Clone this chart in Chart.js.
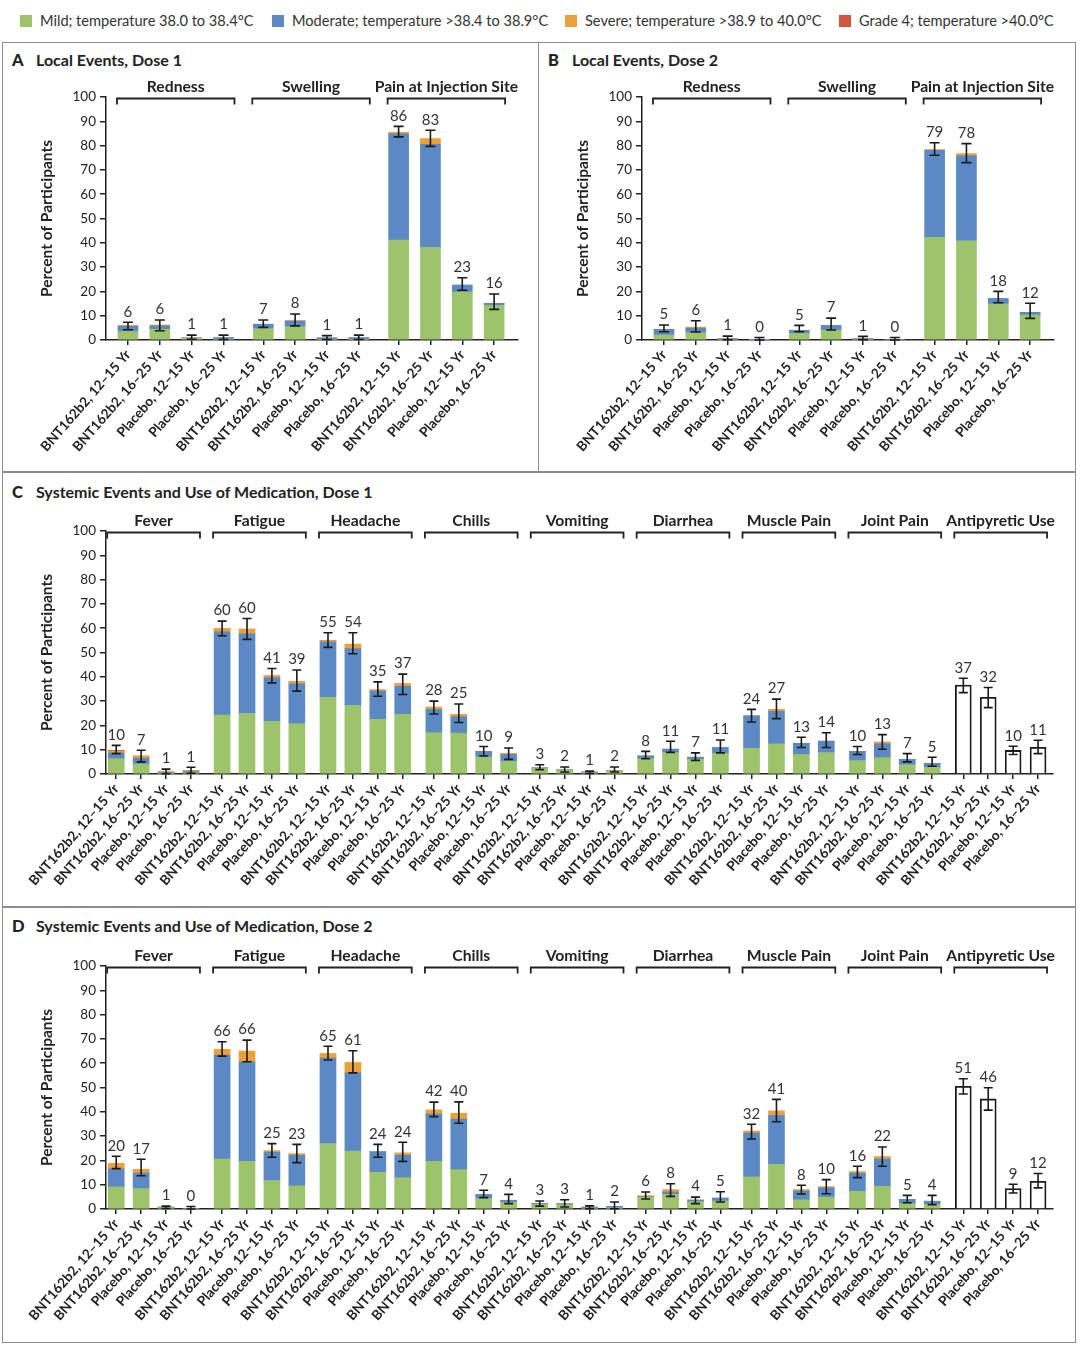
<!DOCTYPE html>
<html>
<head>
<meta charset="utf-8">
<script src="https://cdn.jsdelivr.net/npm/chart.js@4.4.1/dist/chart.umd.min.js"></script>
<style>
body { margin: 0; background: #fff; font-family: Lato, sans-serif; color: #222; }
#page { position: relative; width: 1080px; height: 1346px; overflow: hidden; }
.box { position: absolute; border: 1.5px solid #8c8c8c; box-sizing: border-box; }
.ttl { position: absolute; font-weight: bold; font-size: 16px; line-height: 18px; color: #222; }
.ttl b { font-size: 16.5px; display: inline-block; width: 24px; }
.leg { position: absolute; top: 12px; font-size: 14.6px; line-height: 18px; color: #333; white-space: nowrap; }
.sw { display: inline-block; width: 12px; height: 12px; vertical-align: -1px; margin-right: 8px; }
canvas { position: absolute; }
</style>
</head>
<body>
<div id="page">
  <div class="box" style="left:2px;top:42px;width:537px;height:431px"></div>
  <div class="box" style="left:538px;top:42px;width:538px;height:431px"></div>
  <div class="box" style="left:2px;top:471px;width:1074px;height:437px"></div>
  <div class="box" style="left:2px;top:906px;width:1074px;height:437px"></div>
  <div class="ttl" style="left:12px;top:51px"><b>A</b>Local Events, Dose 1</div>
  <div class="ttl" style="left:548px;top:51px"><b>B</b>Local Events, Dose 2</div>
  <div class="ttl" style="left:12px;top:483px"><b>C</b>Systemic Events and Use of Medication, Dose 1</div>
  <div class="ttl" style="left:12px;top:917px"><b>D</b>Systemic Events and Use of Medication, Dose 2</div>
  <canvas id="chartA" width="533" height="402" style="left:4px;top:66px"></canvas>
  <canvas id="chartB" width="533" height="402" style="left:540px;top:66px"></canvas>
  <canvas id="chartC" width="1070" height="404" style="left:4px;top:500px"></canvas>
  <canvas id="chartD" width="1070" height="404" style="left:4px;top:935px"></canvas>
</div>
<script>
// legend + arm labels
const gradeLabels = ["Mild; temperature 38.0 to 38.4°C", "Moderate; temperature >38.4 to 38.9°C", "Severe; temperature >38.9 to 40.0°C", "Grade 4; temperature >40.0°C"];
const gradeColors = ["#9dc46a", "#5a89c4", "#eba03a", "#d4553a"];
const armLabels = ["BNT162b2, 12–15 Yr", "BNT162b2, 16–25 Yr", "Placebo, 12–15 Yr", "Placebo, 16–25 Yr"];
const localEvents = ["Redness", "Swelling", "Pain at Injection Site"];
const systemicEvents = ["Fever", "Fatigue", "Headache", "Chills", "Vomiting", "Diarrhea", "Muscle Pain", "Joint Pain", "Antipyretic Use"];

// A: local events, dose 1
const local1Mild     = [3.5, 4.4, 0.8, 0.4, 4.7, 5.5, 0.3, 0.3, 41.1, 38.1, 19.7, 14.2];
const local1Moderate = [2.2, 1.4, 0.1, 0.6, 1.8, 2.3, 0.6, 0.7, 43.7, 42.4, 2.9, 0.9];
const local1Severe   = [0.3, 0.4, 0, 0, 0, 0.2, 0, 0, 0.7, 2.4, 0, 0];
const local1Low      = [4.2, 3.8, 0.3, 0.2, 5.2, 5.8, 0.2, 0.2, 83.6, 79.7, 20.5, 12.6];
const local1High     = [7.3, 8.2, 2.0, 2.0, 8.2, 10.7, 1.8, 2.0, 87.9, 86.3, 25.6, 18.9];
const local1Pct      = [6, 6, 1, 1, 7, 8, 1, 1, 86, 83, 23, 16];

// B: local events, dose 2
const local2Mild     = [2.1, 3.0, 0.4, 0, 2.7, 4.1, 0.3, 0, 42.2, 40.8, 14.8, 10.3];
const local2Moderate = [2.3, 1.9, 0.2, 0.1, 1.3, 1.9, 0.3, 0, 35.9, 35.0, 2.3, 1.1];
const local2Severe   = [0, 0.4, 0, 0, 0, 0, 0, 0, 0.3, 0.9, 0, 0];
const local2Low      = [3.4, 3.3, 0.1, 0, 3.4, 4.1, 0.1, 0, 76.0, 73.0, 15.3, 8.9];
const local2High     = [6.2, 7.9, 1.6, 1.0, 6.0, 9.0, 1.5, 1.0, 81.2, 80.8, 20.0, 15.1];
const local2Pct      = [5, 6, 1, 0, 5, 7, 1, 0, 79, 78, 18, 12];

// C: systemic events, dose 1
const sys1Mild     = [6.3, 4.1, 0.3, 0.5, 24.2, 24.9, 21.7, 20.7, 31.5, 28.2, 22.5, 24.6, 17.0, 16.8, 7.0, 5.2,
                      2.3, 1.5, 0.5, 1.1, 6.3, 8.8, 6.0, 8.5, 10.6, 12.4, 8.0, 8.8, 5.5, 6.7, 3.8, 2.7];
const sys1Moderate = [2.4, 2.4, 0.3, 0.5, 34.3, 32.8, 17.9, 16.4, 22.8, 23.4, 11.6, 11.5, 9.6, 6.8, 2.3, 2.8,
                      0.2, 0.2, 0.3, 0.2, 1.1, 1.4, 0.9, 2.4, 13.3, 13.4, 4.6, 4.7, 3.8, 5.7, 2.2, 1.7];
const sys1Severe   = [0.6, 0.9, 0.3, 0.4, 1.4, 1.9, 0.8, 1.0, 0.6, 1.8, 0.5, 1.0, 0.9, 0.9, 0, 0.4,
                      0, 0, 0, 0, 0, 0, 0, 0, 0, 0.7, 0, 0, 0, 0.7, 0, 0];
const sys1Grade4   = [0.4, 0, 0, 0, 0, 0, 0, 0, 0, 0, 0, 0, 0, 0, 0, 0,
                      0, 0, 0, 0, 0, 0, 0, 0, 0, 0, 0, 0, 0, 0, 0, 0];
const sys1Antipyretic = [36.6, 31.6, 9.7, 11.0];
const sys1Low  = [8.4, 5.0, 0.1, 0.3, 56.9, 55.4, 37.5, 34.1, 52.1, 49.5, 32.0, 32.7, 24.7, 21.2, 7.4, 6.0,
                  1.8, 0.8, 0.2, 0.8, 6.3, 8.9, 5.6, 8.7, 21.4, 22.8, 10.9, 10.9, 8.0, 10.2, 5.0, 3.2, 33.5, 27.3, 8.0, 8.4];
const sys1High = [11.8, 9.8, 2.0, 2.8, 62.9, 64.0, 43.4, 42.8, 58.1, 58.1, 37.9, 41.1, 30.0, 28.8, 11.3, 10.7,
                  3.8, 2.9, 1.2, 2.9, 9.3, 13.5, 8.7, 14.0, 26.6, 30.8, 15.1, 17.0, 11.3, 16.2, 8.4, 6.9, 39.4, 35.6, 11.4, 13.9];
const sys1Pct  = [10, 7, 1, 1, 60, 60, 41, 39, 55, 54, 35, 37, 28, 25, 10, 9,
                  3, 2, 1, 2, 8, 11, 7, 11, 24, 27, 13, 14, 10, 13, 7, 5, 37, 32, 10, 11];

// D: systemic events, dose 2
const sys2Mild     = [9.1, 8.4, 0.6, 0, 20.6, 19.6, 11.7, 9.5, 26.9, 23.8, 15.1, 12.9, 19.6, 16.2, 4.3, 2.7,
                      1.9, 1.8, 0.4, 0.5, 4.9, 6.0, 3.0, 3.3, 13.2, 18.4, 3.8, 4.9, 7.3, 9.3, 2.2, 1.9];
const sys2Moderate = [7.4, 6.4, 0.2, 0, 42.7, 41.0, 11.7, 12.6, 35.2, 32.2, 8.5, 9.2, 19.5, 20.8, 1.7, 0.9,
                      0.4, 0.4, 0.4, 0.6, 0.2, 1.0, 0.7, 1.2, 18.1, 20.1, 3.6, 3.8, 7.4, 11.3, 1.8, 1.3];
const sys2Severe   = [2.3, 1.5, 0, 0, 2.4, 4.4, 0.6, 0.7, 1.9, 4.3, 0, 1.0, 1.7, 2.4, 0, 0,
                      0, 0, 0, 0, 0.4, 1.0, 0, 0, 0.8, 1.9, 0.6, 0.5, 0.7, 1.0, 0, 0];
const sys2Antipyretic = [50.5, 45.3, 8.4, 11.4];
const sys2Low  = [16.6, 13.7, 0.2, 0, 62.9, 60.6, 21.3, 19.1, 61.3, 56.0, 21.3, 19.6, 38.0, 35.3, 4.7, 2.2,
                  1.2, 0.8, 0.1, 0.1, 4.1, 5.2, 2.2, 2.9, 28.8, 35.9, 6.2, 6.3, 12.9, 17.6, 2.6, 1.8, 47.3, 40.7, 6.6, 8.7];
const sys2High = [21.7, 20.5, 1.2, 1.0, 68.8, 69.5, 26.9, 26.6, 67.0, 65.1, 26.6, 27.5, 44.0, 44.1, 7.7, 6.0,
                  3.3, 3.8, 1.3, 2.9, 7.0, 10.4, 4.9, 7.1, 34.9, 45.1, 9.8, 12.1, 17.6, 25.5, 5.6, 5.6, 53.6, 49.9, 10.2, 14.6];
const sys2Pct  = [20, 17, 1, 0, 66, 66, 25, 23, 65, 61, 24, 24, 42, 40, 7, 4,
                  3, 3, 1, 2, 6, 8, 4, 5, 32, 41, 8, 10, 16, 22, 5, 4, 51, 46, 9, 12];

Chart.defaults.font.family = "Lato, sans-serif";
Chart.defaults.color = "#222";

// legend row
gradeLabels.forEach(function (txt, i) {
    const d = document.createElement("div");
    d.className = "leg";
    d.style.left = [20, 272, 565, 839][i] + "px";
    d.innerHTML = '<span class="sw" style="background:' + gradeColors[i] + '"></span>' + txt;
    document.getElementById("page").appendChild(d);
});

function buildChart(id, p) {
    // bar slots: 4 arms per group, a little extra room between groups
    const xs = [];
    p.groups.forEach(function (g, gi) {
        for (let i = 0; i < 4; i++) xs.push(gi * 4.25 + i);
    });
    const tickLabels = p.groups.flatMap(() => armLabels);
    const pts = arr => arr.map((v, i) => ({ x: xs[i], y: v }));
    const half = p.barWidth / 2;

    const datasets = [p.mild, p.moderate, p.severe, p.grade4].map(function (arr, k) {
        return { label: gradeLabels[k], data: arr ? pts(arr) : [], backgroundColor: gradeColors[k], stack: "s" };
    });
    if (p.antipyretic) {
        const off = xs.length - 4;
        datasets.push({
            label: "Antipyretic Use",
            data: p.antipyretic.map((v, i) => ({ x: xs[off + i], y: v })),
            backgroundColor: "#fff", borderColor: "#1a1a1a", borderWidth: 1.8, stack: "s"
        });
    }

    const overlay = {
        id: "overlay",
        afterDatasetsDraw(chart) {
            const ctx = chart.ctx, xS = chart.scales.x, yS = chart.scales.y;
            ctx.save();
            ctx.strokeStyle = "#1a1a1a";
            ctx.lineWidth = 1.6;
            ctx.fillStyle = "#333";
            ctx.font = "15px Lato";
            ctx.textAlign = "center";
            ctx.textBaseline = "bottom";
            xs.forEach(function (xv, i) {
                const x = xS.getPixelForValue(xv);
                const y1 = yS.getPixelForValue(p.low[i]);
                const y2 = yS.getPixelForValue(p.high[i]);
                ctx.beginPath();
                ctx.moveTo(x, y1); ctx.lineTo(x, y2);
                ctx.moveTo(x - p.cap, y1); ctx.lineTo(x + p.cap, y1);
                ctx.moveTo(x - p.cap, y2); ctx.lineTo(x + p.cap, y2);
                ctx.stroke();
                ctx.fillText(String(p.pct[i]), x, y2 - 3);
            });
            // group brackets
            ctx.lineWidth = 1.8;
            ctx.strokeStyle = "#222";
            ctx.fillStyle = "#222";
            ctx.font = "bold 15.7px Lato";
            ctx.textBaseline = "middle";
            const by = chart.chartArea.top + 1.5;
            p.groups.forEach(function (name, gi) {
                const xl = xS.getPixelForValue(xs[gi * 4]) - half - 1;
                const xr = xS.getPixelForValue(xs[gi * 4 + 3]) + half + 1;
                ctx.beginPath();
                ctx.moveTo(xl, by + 6); ctx.lineTo(xl, by); ctx.lineTo(xr, by); ctx.lineTo(xr, by + 6);
                ctx.stroke();
                ctx.fillText(name, (xl + xr) / 2, by - 12);
            });
            ctx.restore();
        }
    };

    return new Chart(document.getElementById(id), {
        type: "bar",
        data: { datasets: datasets },
        options: {
            responsive: false,
            animation: false,
            barThickness: p.barWidth,
            layout: { padding: { top: 31, right: p.padRight, left: 0, bottom: 0 } },
            plugins: { legend: { display: false }, tooltip: { enabled: false } },
            scales: {
                x: {
                    type: "linear",
                    stacked: true,
                    offset: false,
                    min: p.xMin,
                    max: xs[xs.length - 1] + p.xEnd,
                    afterBuildTicks: s => { s.ticks = xs.map(v => ({ value: v })); },
                    afterFit: s => { s.height = p.xHeight; s.paddingLeft = 0; s.paddingRight = 0; },
                    ticks: {
                        autoSkip: false, minRotation: 49, maxRotation: 49, padding: 2,
                        callback: (v, i) => tickLabels[i],
                        font: { size: 13.6, weight: "bold" }, color: "#222"
                    },
                    grid: { offset: false, drawOnChartArea: false, tickLength: 5, color: "#222", lineWidth: 1.5 },
                    border: { color: "#222", width: 1.5 }
                },
                y: {
                    stacked: true,
                    min: 0,
                    max: 100,
                    afterFit: s => { s.width = 102; },
                    ticks: { stepSize: 10, padding: 4, font: { size: 13.5 }, color: "#222" },
                    grid: { drawOnChartArea: false, tickLength: 6, color: "#222", lineWidth: 1.5 },
                    border: { color: "#222", width: 1.5 },
                    title: {
                        display: true, text: "Percent of Participants", color: "#222",
                        font: { size: 15.5, weight: "bold" }, padding: { top: 34 }
                    }
                }
            }
        },
        plugins: [overlay]
    });
}

buildChart("chartA", {
    groups: localEvents, mild: local1Mild, moderate: local1Moderate, severe: local1Severe,
    low: local1Low, high: local1High, pct: local1Pct,
    barWidth: 20, cap: 5, xMin: -0.69, xEnd: 0.75, xHeight: 128, padRight: 19
});
buildChart("chartB", {
    groups: localEvents, mild: local2Mild, moderate: local2Moderate, severe: local2Severe,
    low: local2Low, high: local2High, pct: local2Pct,
    barWidth: 20, cap: 5, xMin: -0.69, xEnd: 0.75, xHeight: 128, padRight: 19
});
buildChart("chartC", {
    groups: systemicEvents, mild: sys1Mild, moderate: sys1Moderate, severe: sys1Severe, grade4: sys1Grade4,
    antipyretic: sys1Antipyretic, low: sys1Low, high: sys1High, pct: sys1Pct,
    barWidth: 16, cap: 4.5, xMin: -0.41, xEnd: 0.6, xHeight: 130, padRight: 21
});
buildChart("chartD", {
    groups: systemicEvents, mild: sys2Mild, moderate: sys2Moderate, severe: sys2Severe,
    antipyretic: sys2Antipyretic, low: sys2Low, high: sys2High, pct: sys2Pct,
    barWidth: 16, cap: 4.5, xMin: -0.41, xEnd: 0.6, xHeight: 130, padRight: 21
});
</script>
</body>
</html>
